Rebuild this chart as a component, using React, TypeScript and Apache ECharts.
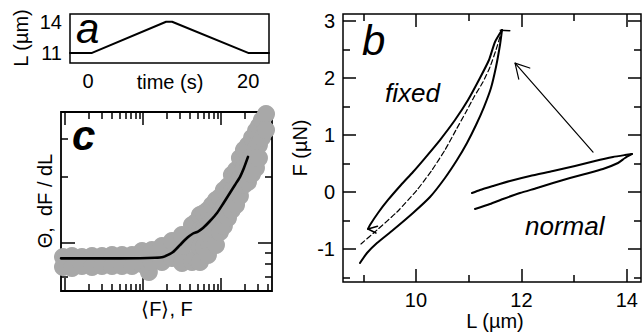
import React, { useEffect, useRef } from 'react';
import * as echarts from 'echarts';

const FONT = '"Liberation Sans", Arial, Helvetica, sans-serif';

// ---------- panel a : L(t) protocol ----------
const aTime = [-2.25, 0.5, 9.75, 10.5, 20.0, 22.6];
const aLength = [11, 11, 14, 14, 11, 11];
const aTimeLabels = [0, 20];
const aLengthLabels = [11, 14];

// ---------- panel b : F vs L ----------
const fixedUpperL = [11.632, 11.499, 11.385, 11.214, 10.987, 10.74, 10.455, 10.171, 9.943, 9.715, 9.469, 9.279, 9.127, 9.089];
const fixedUpperF = [2.842, 2.632, 2.316, 2.0, 1.614, 1.263, 0.912, 0.596, 0.351, 0.123, -0.14, -0.368, -0.579, -0.649];
const fixedLowerL = [8.937, 9.07, 9.26, 9.564, 9.943, 10.266, 10.55, 10.778, 10.968, 11.139, 11.29, 11.423, 11.518, 11.594, 11.632];
const fixedLowerF = [-1.246, -1.07, -0.895, -0.667, -0.368, -0.088, 0.246, 0.561, 0.86, 1.175, 1.491, 1.825, 2.193, 2.579, 2.842];
const fixedMeanL = [8.956, 9.26, 9.639, 10.019, 10.304, 10.55, 10.759, 10.949, 11.101, 11.271, 11.404, 11.518, 11.632];
const fixedMeanF = [-0.912, -0.667, -0.351, 0.035, 0.386, 0.737, 1.088, 1.404, 1.667, 1.93, 2.193, 2.491, 2.842];
const fixedTipL = [11.6, 11.78];
const fixedTipF = [2.84, 2.83];
const fixedEndL = [9.27, 9.089, 9.24];
const fixedEndF = [-0.6, -0.649, -0.72];
const normalUpperL = [11.063, 11.214, 11.461, 11.784, 12.163, 12.6, 13.017, 13.397, 13.738, 13.966, 14.099];
const normalUpperF = [-0.018, 0.035, 0.105, 0.193, 0.281, 0.368, 0.456, 0.544, 0.614, 0.649, 0.667];
const normalLowerL = [14.099, 13.966, 13.833, 13.548, 13.207, 12.922, 12.6, 12.296, 11.973, 11.651, 11.404, 11.12];
const normalLowerF = [0.667, 0.596, 0.509, 0.404, 0.316, 0.246, 0.158, 0.07, -0.018, -0.123, -0.211, -0.298];
const arrowL = [13.36, 11.88];
const arrowF = [0.7, 2.26];
const arrowHeadL = [12.16, 11.88, 11.95];
const arrowHeadF = [2.175, 2.26, 1.98];
const bLLabels = [10, 12, 14];
const bLMinor = [9, 11, 13];
const bFLabels = [-1, 0, 1, 2, 3];
const bFMinor = [-1.5, -0.5, 0.5, 1.5, 2.5];

// ---------- panel c : stiffness vs force (log-log) ----------
const cScatterF = [
  0.0943, 0.0943, 0.123, 0.123, 0.165, 0.165, 0.222, 0.222, 0.298, 0.298,
  0.401, 0.401, 0.538, 0.538, 0.723, 0.723, 0.971, 0.971, 1.19, 1.3, 1.3,
  1.75, 1.75, 2.35, 2.35, 2.35, 3.16, 3.16, 3.16, 4.25, 4.25, 4.25,
  4.78, 4.78, 4.78,
  5.38, 5.38, 5.38, 5.38,
  6.05, 6.05, 6.05,
  6.81, 6.81, 6.81, 6.81,
  7.66, 7.66, 7.66,
  8.63, 8.63, 8.63, 8.63,
  9.71, 9.71, 9.71,
  10.9, 10.9, 10.9,
  12.3, 12.3, 12.3,
  13.8, 13.8, 13.8,
  15.6, 15.6, 15.6,
  17.5, 17.5, 17.5,
  19.7, 19.7, 19.7,
  22.2, 22.2, 22.2,
  25.0, 25.0, 25.0,
  28.1, 28.1, 28.1,
  30.7, 30.7, 30.7,
  33.5, 33.5, 37.8, 37.8,
];
const cScatterTheta = [
  0.863, 0.777, 0.872, 0.769, 0.863, 0.785, 0.872, 0.777, 0.872, 0.785,
  0.882, 0.785, 0.882, 0.785, 0.882, 0.785, 0.919, 0.802, 0.737, 0.929, 0.819,
  0.969, 0.819, 1.021, 0.872, 0.854, 1.088, 0.929, 0.81, 1.208, 1.011, 0.819,
  1.247, 1.032, 0.854,
  1.342, 1.146, 0.959, 0.819,
  1.371, 1.146, 0.959,
  1.415, 1.208, 1.032, 0.882,
  1.491, 1.247, 1.032,
  1.572, 1.328, 1.122, 0.979,
  1.622, 1.356, 1.122,
  1.746, 1.46, 1.196,
  1.82, 1.522, 1.301,
  2.045, 1.71, 1.415,
  2.154, 1.783, 1.491,
  2.44, 1.981, 1.639,
  2.66, 2.2, 1.84,
  2.8, 2.34, 1.899,
  3.02, 2.497, 2.066,
  3.25, 2.71, 2.2,
  3.42, 2.8, 2.44,
  3.64, 3.02, 3.88, 3.28,
];
const cLineF = [0.089, 0.281, 0.915, 1.425, 1.805, 2.09, 2.43, 2.98, 3.66, 4.38, 5.07, 5.88, 7.23, 8.89, 10.6, 13.0, 15.1, 17.5, 19.7, 22.2];
const cLineTheta = [0.851, 0.851, 0.852, 0.856, 0.863, 0.882, 0.91, 0.979, 1.054, 1.105, 1.128, 1.171, 1.26, 1.371, 1.507, 1.692, 1.84, 2.0, 2.2, 2.47];
const cFMajor = [0.1, 1, 10];
const cFMinor = [0.2, 0.3, 0.4, 0.5, 0.6, 0.7, 0.8, 0.9, 2, 3, 4, 5, 6, 7, 8, 9, 20, 30, 40];
const cThetaMajor = [1];
const cThetaMinor = [0.7, 0.8, 0.9, 2, 3];

const zip = (xs: number[], ys: number[]) => xs.map((x, i) => [x, ys[i]]);

function axis(
  gridIndex: number,
  position: string,
  type: string,
  min: number,
  max: number,
  ticks: number[],
  len: number,
  labels?: number[]
) {
  return {
    type,
    gridIndex,
    position,
    min,
    max,
    logBase: 10,
    axisLine: { show: false, onZero: false },
    splitLine: { show: false },
    minorTick: { show: false },
    axisTick: {
      show: ticks.length > 0,
      inside: true,
      length: len,
      customValues: ticks,
      lineStyle: { color: '#000', width: 1.5 },
    },
    axisLabel: labels
      ? { show: true, customValues: labels, margin: 8, color: '#000', fontSize: 20, fontFamily: FONT }
      : { show: false },
    axisPointer: { show: false },
    silent: true,
  };
}

const A_X = [-2.25, 22.6];
const A_Y = [10.03, 14.75];
const B_X = [8.615, 14.27];
const B_Y = [-1.579, 3.123];
const C_X = [0.0889, 45.1];
const C_Y = [0.604, 3.96];

const lineSeries = (xi: number, data: number[][], width: number, dashed = false, smooth: any = false) => ({
  type: 'line',
  xAxisIndex: xi,
  yAxisIndex: xi,
  data,
  symbol: 'none',
  smooth,
  silent: true,
  clip: false,
  lineStyle: { color: '#000', width, type: dashed ? [5, 3] : 'solid', cap: 'round', join: 'round' },
  z: 3,
});

const text = (t: string, x: number, y: number, size: number, opts: any = {}) => ({
  type: 'text',
  x,
  y,
  rotation: opts.rotation || 0,
  silent: true,
  style: {
    text: t,
    fill: '#000',
    font: `${opts.italic ? 'italic ' : ''}${opts.bold ? 'bold ' : ''}${size}px ${FONT}`,
    align: opts.align || 'center',
    verticalAlign: 'middle',
  },
});

const option: any = {
  animation: false,
  backgroundColor: '#fff',
  grid: [
    { left: 70, top: 14, width: 199, height: 49, show: true, borderColor: '#000', borderWidth: 1.5, containLabel: false },
    { left: 343, top: 14, width: 298, height: 268, show: true, borderColor: '#000', borderWidth: 1.5, containLabel: false },
    { left: 61, top: 112, width: 211, height: 179, show: true, borderColor: '#000', borderWidth: 1.8, containLabel: false },
  ],
  xAxis: [
    axis(0, 'bottom', 'value', A_X[0], A_X[1], [], 0, aTimeLabels),
    axis(1, 'bottom', 'value', B_X[0], B_X[1], bLLabels, 13, bLLabels),
    axis(1, 'bottom', 'value', B_X[0], B_X[1], bLMinor, 7),
    axis(1, 'top', 'value', B_X[0], B_X[1], bLLabels, 13),
    axis(1, 'top', 'value', B_X[0], B_X[1], bLMinor, 7),
    axis(2, 'bottom', 'log', C_X[0], C_X[1], cFMajor, 13),
    axis(2, 'bottom', 'log', C_X[0], C_X[1], cFMinor, 7),
    axis(2, 'top', 'log', C_X[0], C_X[1], cFMajor, 13),
    axis(2, 'top', 'log', C_X[0], C_X[1], cFMinor, 7),
  ],
  yAxis: [
    axis(0, 'left', 'value', A_Y[0], A_Y[1], [], 0, aLengthLabels),
    axis(1, 'left', 'value', B_Y[0], B_Y[1], bFLabels, 13, bFLabels),
    axis(1, 'left', 'value', B_Y[0], B_Y[1], bFMinor, 7),
    axis(1, 'right', 'value', B_Y[0], B_Y[1], bFLabels, 13),
    axis(1, 'right', 'value', B_Y[0], B_Y[1], bFMinor, 7),
    axis(2, 'left', 'log', C_Y[0], C_Y[1], cThetaMajor, 14),
    axis(2, 'left', 'log', C_Y[0], C_Y[1], cThetaMinor, 7),
    axis(2, 'right', 'log', C_Y[0], C_Y[1], cThetaMajor, 14),
    axis(2, 'right', 'log', C_Y[0], C_Y[1], cThetaMinor, 7),
  ],
  series: [
    lineSeries(0, zip(aTime, aLength), 2),
    lineSeries(1, zip(fixedUpperL, fixedUpperF), 2, false, 0.2),
    lineSeries(1, zip(fixedLowerL, fixedLowerF), 2, false, 0.2),
    lineSeries(1, zip(fixedMeanL, fixedMeanF), 1.2, true, 0.2),
    lineSeries(1, zip(fixedTipL, fixedTipF), 1.5),
    lineSeries(1, zip(fixedEndL, fixedEndF), 1.5),
    lineSeries(1, zip(normalUpperL, normalUpperF), 2, false, 0.2),
    lineSeries(1, zip(normalLowerL, normalLowerF), 2, false, 0.2),
    lineSeries(1, zip(arrowL, arrowF), 1.2),
    lineSeries(1, zip(arrowHeadL, arrowHeadF), 1.2),
    {
      type: 'scatter',
      xAxisIndex: 5,
      yAxisIndex: 5,
      data: zip(cScatterF, cScatterTheta),
      symbol: 'circle',
      symbolSize: 18,
      clip: false,
      silent: true,
      itemStyle: { color: '#a8a8a8', opacity: 1 },
      z: 2,
    },
    { ...lineSeries(5, zip(cLineF, cLineTheta), 2.6, false, 0.2), z: 4 },
  ],
  graphic: [
    text('a', 76, 28.5, 42, { italic: true, align: 'left' }),
    text('b', 362, 40.5, 42, { italic: true, align: 'left' }),
    text('c', 72, 135.5, 42, { italic: true, bold: true, align: 'left' }),
    text('fixed', 385, 93, 26, { italic: true, align: 'left' }),
    text('normal', 525, 226, 26, { italic: true, align: 'left' }),
    text('L (µm)', 21, 38, 20, { rotation: Math.PI / 2 }),
    text('time (s)', 170, 82, 20),
    text('Θ,  dF / dL', 45, 201, 20, { rotation: Math.PI / 2 }),
    text('⟨F⟩, F', 167, 309, 20),
    text('F (µN)', 300, 148, 20, { rotation: Math.PI / 2 }),
    text('L (µm)', 495, 321, 20),
  ],
};

export default function App() {
  const ref = useRef<HTMLDivElement>(null);
  useEffect(() => {
    if (!ref.current) return;
    const chart = echarts.init(ref.current, null, { renderer: 'svg' });
    chart.setOption(option);
    return () => chart.dispose();
  }, []);
  return (
    <div
      ref={ref}
      style={{ position: 'fixed', left: 0, top: 0, width: 642, height: 335, background: '#fff' }}
    />
  );
}
